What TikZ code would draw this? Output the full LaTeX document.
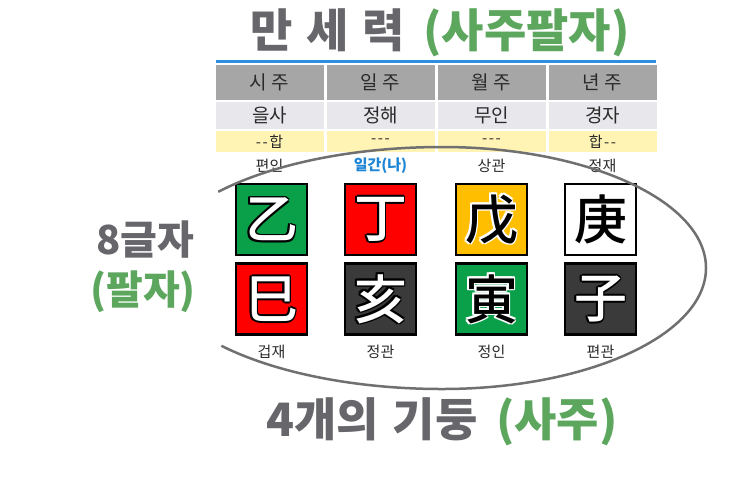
\documentclass[tikz,border=0pt]{standalone}
\usepackage{fontspec}
\setmainfont{Noto Sans CJK KR}
\newfontfamily\medfont{Noto Sans CJK KR Medium}
\usetikzlibrary{calc}
\definecolor{tgray}{HTML}{67676B}
\definecolor{tgreen}{HTML}{5CA65E}
\definecolor{lineblue}{HTML}{2E8FE0}
\definecolor{hdrc}{HTML}{A6A6A6}
\definecolor{rowtwo}{HTML}{E8E8EC}
\definecolor{rowthree}{HTML}{FFF4B4}
\definecolor{txt}{HTML}{2A2A2A}
\definecolor{gan}{HTML}{1F86D6}
\definecolor{bgreen}{HTML}{0AA04A}
\definecolor{bred}{HTML}{FF0000}
\definecolor{byellow}{HTML}{FFBF00}
\definecolor{bdark}{HTML}{3A3A3A}
\definecolor{ellc}{HTML}{707070}
\newlength\olw \setlength\olw{1.8pt}
\newcommand\olcopy[2]{\rlap{\kern#1\raise#2\copy0}}
\newcommand\olch[3]{{\setbox0=\hbox{#3}\color{#1}%
\olcopy{\olw}{0pt}\olcopy{-\olw}{0pt}\olcopy{0pt}{\olw}\olcopy{0pt}{-\olw}%
\olcopy{.7\olw}{.7\olw}\olcopy{-.7\olw}{.7\olw}\olcopy{.7\olw}{-.7\olw}\olcopy{-.7\olw}{-.7\olw}%
\color{#2}\copy0}}
\newcommand\hy{-\kern1.5pt}
\tikzset{
  cell/.style={minimum width=108pt, inner sep=0pt, text=txt},
  hdrcell/.style={cell, fill=hdrc, minimum height=35pt, font=\fontsize{19}{19}\selectfont},
  rtwo/.style={cell, fill=rowtwo, minimum height=27pt, font=\fontsize{19}{19}\selectfont},
  rthree/.style={cell, fill=rowthree, minimum height=21pt, font=\fontsize{15}{15}\selectfont},
  lab/.style={inner sep=0pt, text=txt, font=\fontsize{15}{15}\selectfont},
  gbox/.style={draw=black, line width=2.5pt, minimum size=71pt, inner sep=0pt, font=\medfont\fontsize{53}{53}\selectfont},
  ell/.style={draw=ellc, line width=2.5pt}
}
\begin{document}
\begin{tikzpicture}[x=1pt,y=-1pt]
\useasboundingbox[fill=white] (0,0) rectangle (743,496);
% title
\node[inner sep=0pt, font=\fontsize{46}{46}\selectfont\bfseries] (title) at (440,33)
  {{\color{tgray}만\hspace{.3em}세\hspace{.3em}력}\hspace{.4em}{\color{tgreen}(사주팔자)}};
\coordinate (bl) at (216,61);
\coordinate (br) at (656,61);
\draw[lineblue, line width=3pt] (bl) -- (br);
% table
\node[hdrcell] (h1) at (269.5,82.5) {시 주};
\node[hdrcell] (h2) at (380.5,82.5) {일 주};
\node[hdrcell] (h3) at (491.5,82.5) {월 주};
\node[hdrcell] (h4) at (602.5,82.5) {년 주};
\node[rtwo] (a1) at (269.5,115.5) {을사};
\node[rtwo] (a2) at (380.5,115.5) {정해};
\node[rtwo] (a3) at (491.5,115.5) {무인};
\node[rtwo] (a4) at (602.5,115.5) {경자};
\node[rthree] (b1) at (269.5,141.5) {\hy\hy 합};
\node[rthree] (b2) at (380.5,141.5) {\hy\hy -};
\node[rthree] (b3) at (491.5,141.5) {\hy\hy -};
\node[rthree] (b4) at (602.5,141.5) {합\kern1.5pt\hy -};
\node[lab] (t1) at (269.5,166) {편인};
\node[lab, text=gan, font=\fontsize{15}{15}\selectfont\bfseries] (t2) at (380.5,166) {일간(나)};
\node[lab] (t3) at (491.5,166) {상관};
\node[lab] (t4) at (602.5,166) {정재};
% boxes
\node[gbox, fill=bgreen] (g1) at (271.5,219.5) {\olch{black}{white}{乙}};
\node[gbox, fill=bred] (g2) at (380.5,219.5) {\olch{black}{white}{丁}};
\node[gbox, fill=byellow] (g3) at (491.5,219.5) {\olch{white}{black}{戊}};
\node[gbox, fill=white] (g4) at (600.5,219.5) {\olch{white}{black}{庚}};
\node[gbox, fill=bred] (j1) at (271.5,299) {\olch{black}{white}{巳}};
\node[gbox, fill=bdark] (j2) at (380.5,299) {\olch{black}{white}{亥}};
\node[gbox, fill=bgreen] (j3) at (491.5,299) {\olch{white}{black}{寅}};
\node[gbox, fill=bdark] (j4) at (600.5,299) {\olch{black}{white}{子}};
\node[lab] (u1) at (271.5,352) {겁재};
\node[lab] (u2) at (380.5,352) {정관};
\node[lab] (u3) at (491.5,352) {정인};
\node[lab] (u4) at (600.5,352) {편관};
% ellipse
\coordinate (c) at (442,268);
\draw[ell] ($(c)+(219:288 and 121)$) arc[start angle=219, end angle=270, x radius=288, y radius=121]
  arc[start angle=270, end angle=450, x radius=264, y radius=121]
  arc[start angle=90, end angle=140, x radius=288, y radius=121];
% side and bottom texts
\node[inner sep=0pt, text=tgray, font=\fontsize{40}{40}\selectfont\bfseries] (eight) at (145,240) {8글자};
\node[inner sep=0pt, text=tgreen, font=\fontsize{40}{40}\selectfont\bfseries] (palja) at (143,292) {(팔자)};
\node[inner sep=0pt, font=\fontsize{46}{46}\selectfont\bfseries] (four) at (442,422)
  {{\color{tgray}4개의\hspace{.3em}기둥}\hspace{.4em}{\color{tgreen}(사주)}};
\end{tikzpicture}
\end{document}
